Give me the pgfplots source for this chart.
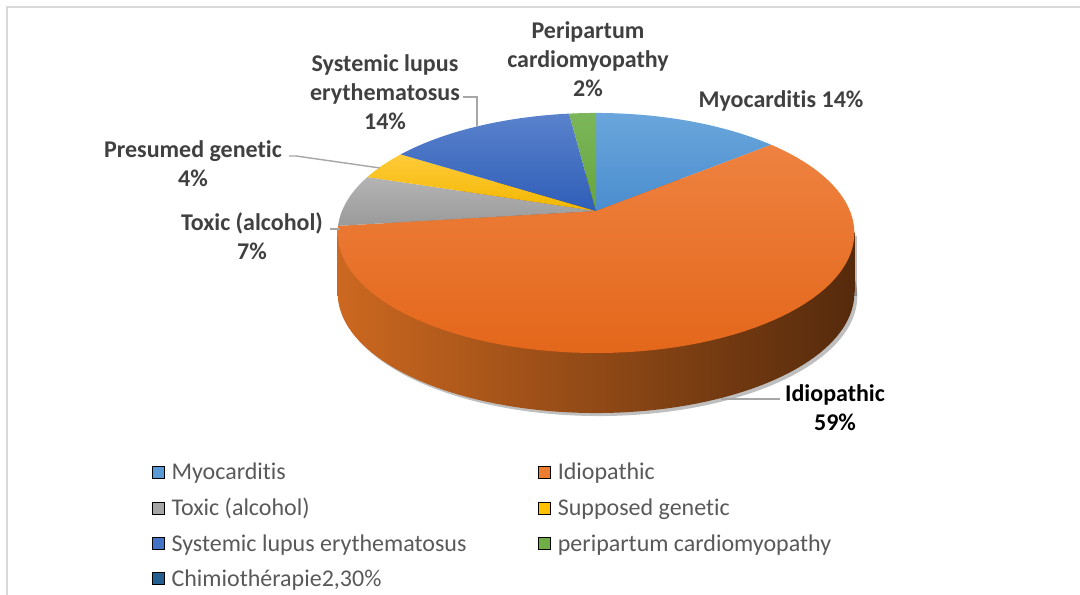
\documentclass[border=0pt]{standalone}
\usepackage{pgfplots}
\pgfplotsset{compat=1.18}
\usepackage{pgfplotstable}
\usepackage{fontspec}
\setmainfont{Carlito}[Ligatures={NoCommon,NoContextual}]

\definecolor{pc0}{HTML}{5B9BD5}
\definecolor{pc1}{HTML}{ED7D31}
\definecolor{pc2}{HTML}{A5A5A5}
\definecolor{pc3}{HTML}{FFC000}
\definecolor{pc4}{HTML}{4472C4}
\definecolor{pc5}{HTML}{70AD47}
\definecolor{pc6}{HTML}{255E91}
% gradient ends of the top face
\definecolor{t0}{HTML}{6AA6DC}\definecolor{b0}{HTML}{4A8DCE}
\definecolor{t1}{HTML}{EE8240}\definecolor{b1}{HTML}{E4671B}
\definecolor{t2}{HTML}{B4B4B4}\definecolor{b2}{HTML}{9A9A9A}
\definecolor{t3}{HTML}{FFCB3A}\definecolor{b3}{HTML}{F2B700}
\definecolor{t4}{HTML}{5A82CC}\definecolor{b4}{HTML}{2F5EB8}
\definecolor{t5}{HTML}{7CB65A}\definecolor{b5}{HTML}{66A53D}
\definecolor{sideL}{HTML}{CC6820}
\definecolor{sideM}{HTML}{88441A}
\definecolor{sideR}{HTML}{552A0C}
\definecolor{lblgray}{HTML}{404040}
\definecolor{leggray}{HTML}{595959}
\definecolor{leadergray}{HTML}{A6A6A6}
\definecolor{framegray}{HTML}{D9D9D9}

% shares of the pie (percent), clockwise from 12 o'clock
\pgfplotstableread{
share
14
59
7
4
14
2
}\piedata

\begin{document}
\newcommand\cum{0}%
\pgfplotsforeachungrouped \i in {0,...,5}{%
  \pgfplotstablegetelem{\i}{share}\of\piedata
  \pgfmathsetmacro\nxt{\cum+3.6*\pgfplotsretval}%
  \expandafter\xdef\csname wa\i\endcsname{\cum}%
  \expandafter\xdef\csname wb\i\endcsname{\nxt}%
  \xdef\cum{\nxt}%
}%
\begin{tikzpicture}
\useasboundingbox (0,0) rectangle (1080bp,595bp);
\begin{axis}[
  at={(0,0)}, anchor=south west,
  scale only axis, width=1080bp, height=595bp,
  xmin=0, xmax=1080, ymin=0, ymax=595,
  hide axis, clip=false,
  declare function={
    px(\t)=596+254*sin(\t)/(1+0.1833*cos(\t));
    py(\t)=384+116*cos(\t)/(1+0.1833*cos(\t));
  },
  legend columns=2,
  legend cell align=left,
  legend image code/.code={\fill[#1] (0bp,-6bp) rectangle (12bp,6bp);},
  legend style={draw=none, fill=none,
    at={(0.1407,0.2252)}, anchor=north west,
    font=\fontsize{24bp}{28bp}\selectfont, text=leggray,
    inner xsep=0pt, inner ysep=0pt, row sep=13bp,
    /tikz/every odd column/.append style={column sep=5bp},
    /tikz/every even column/.append style={column sep=70bp}},
]
% frame
\draw[framegray, line width=1.5bp] (axis cs:7,-5) -- (axis cs:7,588) -- (axis cs:1090,588);

% shadow of the side
\addplot[forget plot, draw=none, fill=black, opacity=0.25, domain=0:360, samples=180, variable=\t]
  ({px(\t)+3},{py(\t)-63}) -- cycle;
\addplot[forget plot, draw=none, fill=black, opacity=0.25]
  coordinates {(340.6,359) (857.4,359) (857.4,299) (340.6,299)} -- cycle;

% side of the pie
\addplot[forget plot, draw=none, left color=sideL, middle color=sideM, right color=sideR,
  domain=0:360, samples=180, variable=\t]
  ({px(\t)},{py(\t)-60}) -- cycle;
\addplot[forget plot, draw=none, left color=sideL, middle color=sideM, right color=sideR]
  coordinates {(337.6,362) (854.4,362) (854.4,302) (337.6,302)} -- cycle;

% top face wedges
\pgfplotsinvokeforeach{0,...,5}{
  \addplot[forget plot, draw=none, top color=t#1, bottom color=b#1,
    domain=\csname wa#1\endcsname:\csname wb#1\endcsname, samples=90, variable=\t]
    ({px(\t)},{py(\t)}) -- (axis cs:596,384) -- cycle;
}

% leader lines
\draw[leadergray, line width=1.4bp] (axis cs:463,498) -- (axis cs:477,498) -- (axis cs:477,468);
\draw[leadergray, line width=1.4bp] (axis cs:289,439) -- (axis cs:296,439) -- (axis cs:380,427);
\draw[leadergray, line width=1.4bp] (axis cs:330,366) -- (axis cs:340,366);
\draw[leadergray, line width=1.4bp] (axis cs:721,196) -- (axis cs:780,196);

% data labels
\begin{scope}[every node/.style={font=\fontsize{24bp}{29bp}\selectfont\bfseries, text=lblgray, align=center, inner sep=0pt}]
\node at (axis cs:588,536) {Peripartum\\cardiomyopathy\\2\%};
\node at (axis cs:781,494) {Myocarditis 14\%};
\node at (axis cs:385,503) {Systemic lupus\\erythematosus\\14\%};
\node at (axis cs:193,431) {Presumed genetic\\4\%};
\node at (axis cs:252,359) {Toxic (alcohol)\\7\%};
\node[text=black] at (axis cs:835,187) {Idiopathic\\59\%};
\end{scope}

% legend
\addlegendimage{fill=pc0}\addlegendentry{Myocarditis}
\addlegendimage{fill=pc1}\addlegendentry{Idiopathic}
\addlegendimage{fill=pc2}\addlegendentry{Toxic (alcohol)}
\addlegendimage{fill=pc3}\addlegendentry{Supposed genetic}
\addlegendimage{fill=pc4}\addlegendentry{Systemic lupus erythematosus}
\addlegendimage{fill=pc5}\addlegendentry{peripartum cardiomyopathy}
\addlegendimage{fill=pc6}\addlegendentry{Chimioth\'erapie2,30\%}
\end{axis}
\end{tikzpicture}
\end{document}
